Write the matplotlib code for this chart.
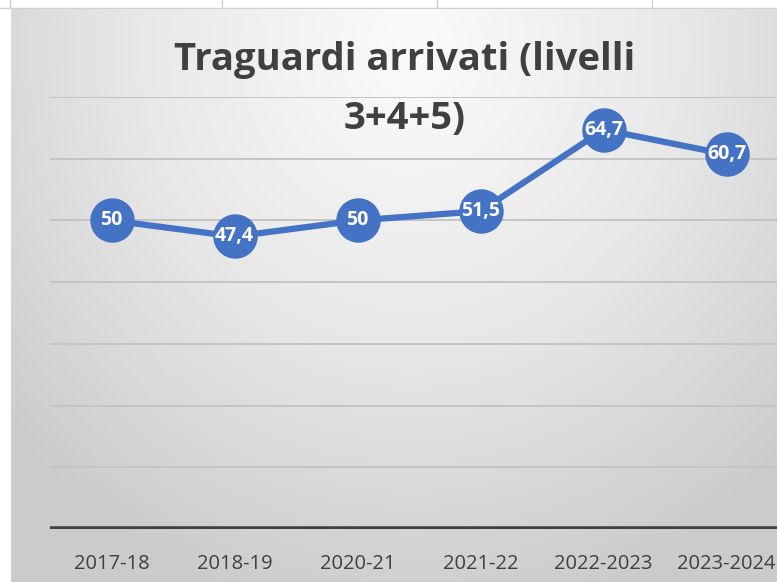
import numpy as np
import matplotlib.pyplot as plt
from matplotlib.colors import LinearSegmentedColormap

years = ['2017-18', '2018-19', '2020-21', '2021-22', '2022-2023', '2023-2024']
values = [50, 47.4, 50, 51.5, 64.7, 60.7]
labels = ['50', '47,4', '50', '51,5', '64,7', '60,7']
title_lines = ['Traguardi arrivati (livelli', '3+4+5)']

W, H = 777, 582
fig = plt.figure(figsize=(W / 100, H / 100), dpi=100)
fig.patch.set_facecolor('white')

# spreadsheet cells peeking out at the top
top = fig.add_axes([0, 0, 1, 1])
top.set_xlim(0, W)
top.set_ylim(H, 0)
top.axis('off')
top.plot([0, W], [8, 8], color='#d0d0d0', lw=1)
for xv in [10, 222, 437, 652]:
    top.plot([xv, xv], [0, 8], color='#d0d0d0', lw=1)

# radial gradient background of the chart area
bg = fig.add_axes([11 / W, 0, 1 - 11 / W, (H - 9) / H])
yy, xx = np.mgrid[0:H - 9, 0:W - 11]
r = np.sqrt(((xx - 400) / 540.0) ** 2 + ((yy - 40) / 580.0) ** 2)
r = np.clip(r, 0, 1)
cmap = LinearSegmentedColormap.from_list('bg', ['#fbfbfb', '#e8e8e8', '#cbcbcb'])
bg.imshow(r, cmap=cmap, vmin=0, vmax=1, aspect='auto', interpolation='bilinear')
bg.axis('off')

# plot axes (extends past the right edge, like the cropped original)
x0, x1 = 50, 788
y_top, y_bot = 97, 529
ax = fig.add_axes([x0 / W, 1 - y_bot / H, (x1 - x0) / W, (y_bot - y_top) / H])
ax.patch.set_alpha(0)
ax.set_xlim(-0.5, len(years) - 0.5)
ax.set_ylim(0, 70)
for gy in range(10, 71, 10):
    ax.axhline(gy, color='#c4c4c4', lw=1.4, zorder=1)
ax.axhline(0, color='#404040', lw=4, zorder=2)
for s in ax.spines.values():
    s.set_visible(False)
ax.set_yticks([])
ax.set_xticks(range(len(years)))
ax.set_xticklabels(years, fontsize=14.5, color='#404040', family='Open Sans')
ax.tick_params(axis='x', length=0, pad=18)

xs = np.arange(len(years))
ax.plot(xs, values, color='#4472C4', lw=4.5, zorder=3, clip_on=False)
ax.plot(xs, values, 'o', color='#4472C4', ms=31, zorder=4, clip_on=False)
for xi, v, t in zip(xs, values, labels):
    ax.text(xi, v, t, ha='center', va='center', color='white', fontsize=14,
            fontweight='bold', family='Open Sans', zorder=5)

# title, one text per line as it wraps in the original
for line, ypx in zip(title_lines, [60, 119]):
    fig.text(405 / W, 1 - ypx / H, line, ha='center', va='center',
             fontsize=27.5, fontweight='bold', color='#404040', family='Open Sans')

fig.savefig('out.png', dpi=100)
